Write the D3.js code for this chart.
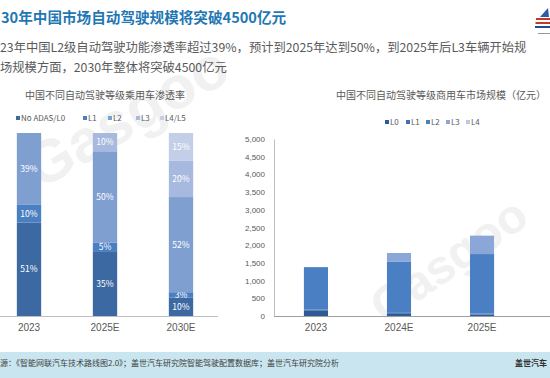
<!DOCTYPE html>
<html>
<head>
<meta charset="utf-8">
<script src="https://cdn.jsdelivr.net/npm/d3@7"></script>
<style>
  body { margin: 0; background: #fff; }
  svg { display: block; font-family: "Noto Sans CJK SC", "Noto Sans", sans-serif; }
</style>
</head>
<body>
<div id="chart"></div>
<script>
// left chart: passenger car penetration (%)
const leftYears = ["2023", "2025E", "2030E"];
const leftLevels = ["No ADAS/L0", "L1", "L2", "L3", "L4/L5"];
const leftL0 = [51, 35, 10];
const leftL1 = [10, 5, 3];
const leftL2 = [39, 50, 52];
const leftL3 = [0, 10, 20];
const leftL45 = [0, 0, 15];

// right chart: commercial vehicle market size (亿元), only the visible years
const rightYears = ["2023", "2024E", "2025E"];
const rightLevels = ["L0", "L1", "L2", "L3", "L4"];
const rightL0 = [160, 60, 40];
const rightL1 = [20, 30, 30];
const rightL2 = [1200, 1440, 1680];
const rightL3 = [0, 250, 520];
const rightL4 = [0, 0, 0];
const rightTicks = [0, 500, 1000, 1500, 2000, 2500, 3000, 3500, 4000, 4500, 5000];

const W = 550, H = 378;
const svg = d3.select("#chart").append("svg")
    .attr("width", W).attr("height", H);

// watermark (drawn first, behind everything)
svg.append("text").attr("transform", "translate(40,190) rotate(-30)")
    .attr("font-size", 60).attr("font-weight", "bold").attr("fill", "#d9d9d9").attr("opacity", 0.35)
    .attr("font-family", "Liberation Sans, Arial, sans-serif")
    .text("Gasgoo");
svg.append("text").attr("transform", "translate(385,325) rotate(-35)")
    .attr("font-size", 48).attr("font-weight", "bold").attr("fill", "#d9d9d9").attr("opacity", 0.35)
    .attr("font-family", "Liberation Sans, Arial, sans-serif")
    .text("Gasgoo");

// header
svg.append("text").attr("x", 1).attr("y", 23)
    .attr("font-size", 14.6).attr("font-weight", "bold").attr("fill", "#1f78b4")
    .text("30年中国市场自动驾驶规模将突破4500亿元");
svg.append("text").attr("x", 0).attr("y", 52)
    .attr("font-size", 12.3).attr("fill", "#5a5a5a")
    .text("23年中国L2级自动驾驶功能渗透率超过39%，预计到2025年达到50%，到2025年后L3车辆开始规");
svg.append("text").attr("x", 0).attr("y", 72)
    .attr("font-size", 12.3).attr("fill", "#5a5a5a")
    .text("场规模方面，2030年整体将突破4500亿元");

// small logo top right
const logo = svg.append("g");
[["#c0392b", 18], ["#c0392b", 22], ["#1f4e8c", 26]].forEach(([c, y], i) => {
    logo.append("rect").attr("x", 536 - i * 0.5).attr("y", y).attr("width", 14 + i).attr("height", 2).attr("fill", c);
});
logo.append("path").attr("d", "M540,17 L548,8 L549,17 Z").attr("fill", "#2a5da8");
logo.append("rect").attr("x", 538).attr("y", 33).attr("width", 12).attr("height", 1).attr("fill", "#999");

// ---------- left chart ----------
const leftColors = ["#3d69a3", "#4a7fc1", "#7f9fd0", "#a7b9de", "#c3cfe8"];
const leftRows = leftYears.map((y, i) => ({
    year: y, "No ADAS/L0": leftL0[i], L1: leftL1[i], L2: leftL2[i], L3: leftL3[i], "L4/L5": leftL45[i]
}));
const leftStack = d3.stack().keys(leftLevels)(leftRows);

const lx = d3.scaleBand().domain(leftYears).range([-9, 219]).paddingInner(0.68).paddingOuter(0.34);
const ly = d3.scaleLinear().domain([0, 100]).range([316, 133]);

svg.append("text").attr("x", 25).attr("y", 99)
    .attr("font-size", 10).attr("fill", "#595959")
    .text("中国不同自动驾驶等级乘用车渗透率");

const leftLegendX = [16, 83, 108, 136, 160];
const lleg = svg.append("g").selectAll("g").data(leftLevels).join("g")
    .attr("transform", (d, i) => `translate(${leftLegendX[i]},121)`);
lleg.append("rect").attr("x", 0).attr("y", -5).attr("width", 4).attr("height", 4)
    .attr("fill", (d, i) => leftColors[i]);
lleg.append("text").attr("x", 5).attr("y", 0).attr("font-size", 8).attr("fill", "#595959")
    .text(d => d);

const lg = svg.append("g");
leftStack.forEach((layer, li) => {
    lg.append("g").selectAll("rect").data(layer).join("rect")
        .attr("x", d => lx(d.data.year))
        .attr("y", d => ly(d[1]))
        .attr("width", lx.bandwidth())
        .attr("height", d => ly(d[0]) - ly(d[1]))
        .attr("fill", leftColors[li]);
    lg.append("g").selectAll("text").data(layer.filter(d => d[1] - d[0] > 0)).join("text")
        .attr("x", d => lx(d.data.year) + lx.bandwidth() / 2)
        .attr("y", d => d[1] - d[0] < 5 ? ly(d[1]) + 5.5 : (ly(d[0]) + ly(d[1])) / 2 + 3)
        .attr("text-anchor", "middle")
        .attr("font-size", 8.5)
        .attr("fill", "#fff")
        .text(d => (d[1] - d[0]) + "%");
});

svg.append("g").attr("transform", "translate(0,316)")
    .call(d3.axisBottom(lx).tickSize(0).tickPadding(8))
    .call(g => g.select(".domain").attr("stroke", "#bfbfbf").attr("d", "M0,0.5H218"))
    .call(g => g.selectAll("text").attr("font-size", 10).attr("fill", "#595959")
        .attr("font-family", "Liberation Sans, Arial, sans-serif"));

// ---------- right chart ----------
const rightColors = ["#2f5b95", "#3e72b3", "#4a7fc3", "#8aa7d7", "#b8c8e6"];
const rightRows = rightYears.map((y, i) => ({
    year: y, L0: rightL0[i], L1: rightL1[i], L2: rightL2[i], L3: rightL3[i], L4: rightL4[i]
}));
const rightStack = d3.stack().keys(rightLevels)(rightRows);

const rx = d3.scaleBand().domain(rightYears).range([274, 524]).paddingInner(0.71).paddingOuter(0.36);
const ry = d3.scaleLinear().domain([0, 5000]).range([316, 139]);

svg.append("text").attr("x", 336).attr("y", 99)
    .attr("font-size", 10).attr("fill", "#595959")
    .text("中国不同自动驾驶等级商用车市场规模（亿元）");

const rightLegendX = [385, 406, 426, 446, 466];
const rleg = svg.append("g").selectAll("g").data(rightLevels).join("g")
    .attr("transform", (d, i) => `translate(${rightLegendX[i]},125)`);
rleg.append("rect").attr("x", 0).attr("y", -5).attr("width", 4).attr("height", 4)
    .attr("fill", (d, i) => rightColors[i]);
rleg.append("text").attr("x", 5).attr("y", 0).attr("font-size", 8).attr("fill", "#595959")
    .text(d => d);

const rg = svg.append("g");
rightStack.forEach((layer, li) => {
    rg.append("g").selectAll("rect").data(layer).join("rect")
        .attr("x", d => rx(d.data.year))
        .attr("y", d => ry(d[1]))
        .attr("width", rx.bandwidth())
        .attr("height", d => ry(d[0]) - ry(d[1]))
        .attr("fill", rightColors[li]);
});

svg.append("g").attr("transform", "translate(274,0)")
    .call(d3.axisLeft(ry).tickValues(rightTicks).tickFormat(d3.format(",")).tickSize(0).tickPadding(9))
    .call(g => g.select(".domain").attr("stroke", "#bfbfbf"))
    .call(g => g.selectAll("text").attr("font-size", 8).attr("fill", "#595959")
        .attr("font-family", "Liberation Sans, Arial, sans-serif"));

svg.append("g").attr("transform", "translate(0,316)")
    .call(d3.axisBottom(rx).tickSize(0).tickPadding(8))
    .call(g => g.select(".domain").attr("stroke", "#9f9f9f").attr("d", "M274,0.5H550"))
    .call(g => g.selectAll("text").attr("font-size", 10).attr("fill", "#595959")
        .attr("font-family", "Liberation Sans, Arial, sans-serif"));

// footer
svg.append("rect").attr("x", 0).attr("y", 352).attr("width", W).attr("height", 26).attr("fill", "#c9e5ef");
svg.append("text").attr("x", 0).attr("y", 366)
    .attr("font-size", 8).attr("fill", "#404040")
    .text("源：《智能网联汽车技术路线图2.0》；盖世汽车研究院智能驾驶配置数据库；盖世汽车研究院分析");
svg.append("text").attr("x", 515).attr("y", 366)
    .attr("font-size", 8).attr("font-weight", "bold").attr("fill", "#303030")
    .text("盖世汽车");
</script>
</body>
</html>
